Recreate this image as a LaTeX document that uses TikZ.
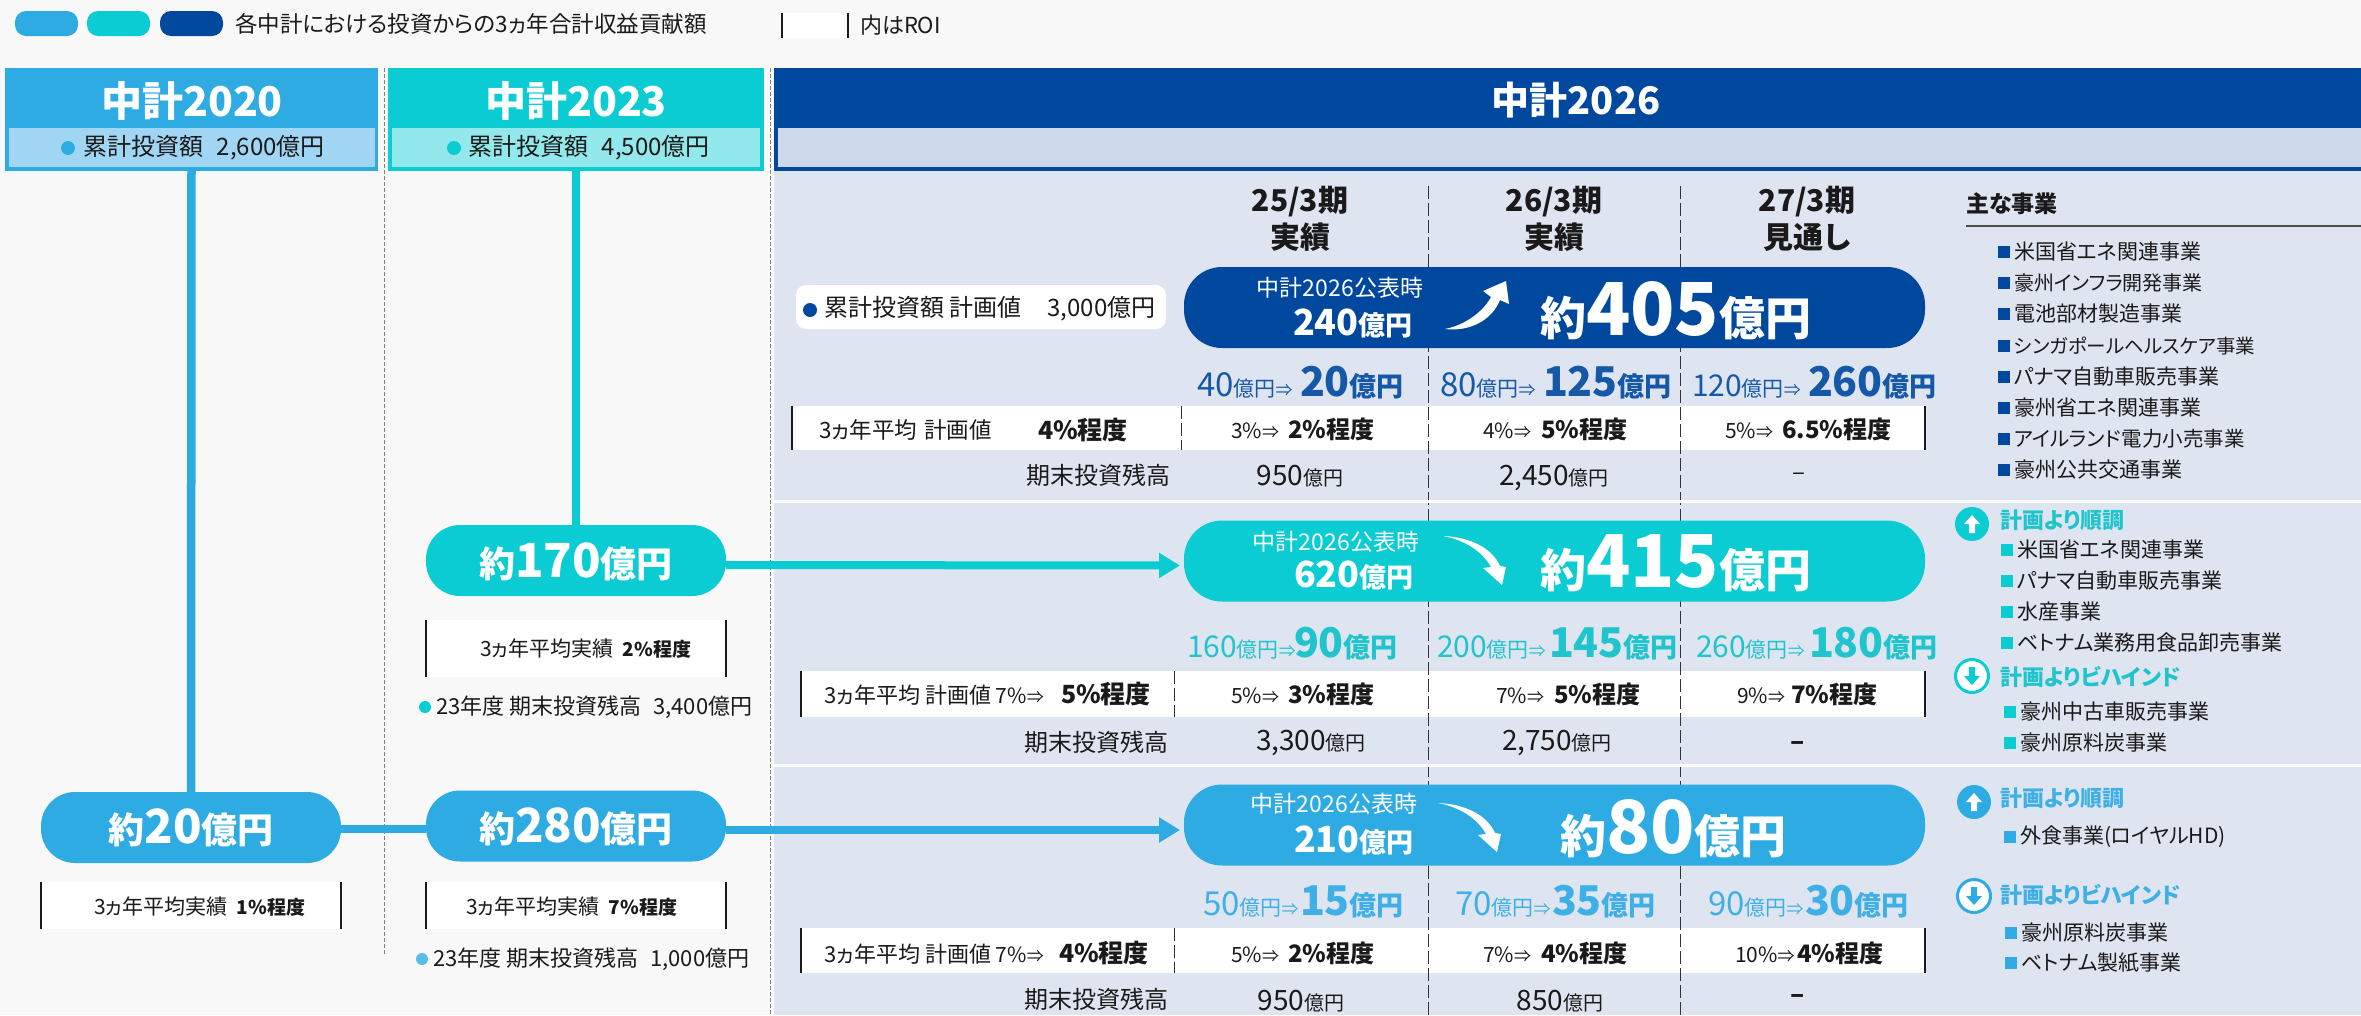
\documentclass[tikz,border=0pt]{standalone}
\usepackage{fontspec}
\setmainfont{Noto Sans CJK JP}[RawFeature={+palt}]
\usetikzlibrary{arrows.meta}
\definecolor{bluea}{HTML}{2EABE3}
\definecolor{bluel}{HTML}{A0D6F3}
\definecolor{cyana}{HTML}{0ACCD2}
\definecolor{cyanl}{HTML}{92E8EA}
\definecolor{navy}{HTML}{00489D}
\definecolor{navyl}{HTML}{CDD9EB}
\definecolor{panel}{HTML}{DFE5F0}
\definecolor{paper}{HTML}{F8F8F8}
\definecolor{ink}{HTML}{1A1A1A}
\definecolor{navyt}{HTML}{1558A8}
\definecolor{cyant}{HTML}{20C4CC}
\definecolor{bluet}{HTML}{3FB0E6}
\newcommand{\fs}[1]{\fontsize{#1}{#1}\selectfont}
\newcommand{\amt}[8][]{%
  \node[txt,anchor=base west,text=#4] (#2s) at (#5,#3) {\fs{33}#6\fs{21}億円\fs{17}⇒};
  \node[txt,anchor=base west,text=#4] (#2b) at (#7,#3) {\bfseries\fs{41}#8\fs{27}億円};}
\newcommand{\roi}[6]{%
  \node[txt,anchor=base west,text=ink] (#1s) at (#3,#2) {\fs{21}#4\fs{17}⇒};
  \node[txt,anchor=base west,text=ink] (#1b) at (#5,#2) {\bfseries\fs{24}#6};}
\newcommand{\upicon}[4]{%
  \node[ellipse icon,fill=#4] (#1) at (#2,#3) {};
  \fill[white] ([xshift=0pt,yshift=9pt]#1.center) -- ++(-8pt,-9pt) -- ++(5pt,0pt) -- ++(0pt,-9pt) -- ++(6pt,0pt) -- ++(0pt,9pt) -- ++(5pt,0pt) -- cycle;}
\newcommand{\downicon}[4]{%
  \node[ellipse icon,fill=white,draw=#4,line width=3pt,minimum width=31pt,minimum height=33pt] (#1) at (#2,#3) {};
  \fill[#4] ([yshift=-9pt]#1.center) -- ++(-8pt,9pt) -- ++(5pt,0pt) -- ++(0pt,9pt) -- ++(6pt,0pt) -- ++(0pt,-9pt) -- ++(5pt,0pt) -- cycle;}
\newcommand{\bizitem}[6]{%
  \node[bizsq,fill=#4] (#1q) at (#2,#3) {};
  \node[txt,anchor=west,text=ink] (#1) at (#5,#3) {\fs{21}#6};}
\tikzset{
  txt/.style={inner sep=0pt,outer sep=0pt},
  ellipse icon/.style={circle,inner sep=0pt,outer sep=0pt,minimum width=34pt},
  bizsq/.style={rectangle,inner sep=0pt,outer sep=0pt,minimum width=12pt,minimum height=12pt},
  pillsmall/.style={rectangle,inner sep=0pt,outer sep=0pt,rounded corners=34pt,minimum width=300pt,minimum height=71pt},
  pillbig/.style={rectangle,inner sep=0pt,outer sep=0pt,rounded corners=38pt,minimum width=741pt,minimum height=81pt},
  whitebox/.style={rectangle,fill=white,inner sep=0pt,outer sep=0pt},
  sepline/.style={draw=black!50,line width=1pt,dash pattern=on 4pt off 2pt},
  colline/.style={draw=black!80,line width=1pt,dash pattern=on 13pt off 4pt},
  sideline/.style={draw=ink,line width=2pt},
  flowline/.style={line width=8.5pt},
  flowarrow/.style={line width=8pt,-{Triangle[length=21pt,width=24pt]}},
  hd/.style={rectangle,inner sep=0pt,outer sep=0pt},
  dotm/.style={circle,inner sep=0pt,outer sep=0pt,minimum size=14pt},
}
\begin{document}
\begin{tikzpicture}[x=1pt,y=-1pt]
\useasboundingbox (0,0) rectangle (2361,1015);
\fill[paper] (0,0) rectangle (2361,1015);
% panel and section dividers
\fill[panel] (774,171) rectangle (2361,1015);
% legend
\node[hd,fill=bluea,rounded corners=11pt,minimum width=63pt,minimum height=25pt] (lg1) at (46.5,23.5) {};
\node[hd,fill=cyana,rounded corners=11pt,minimum width=63pt,minimum height=25pt] (lg2) at (118.5,23.5) {};
\node[hd,fill=navy,rounded corners=11pt,minimum width=63pt,minimum height=25pt] (lg3) at (191.5,23.5) {};
\node[txt,anchor=west,text=ink] (lgt) at (235,24) {\fs{22.5}各中計における投資からの3ヵ年合計収益貢献額};
\node[whitebox,minimum width=66pt,minimum height=25pt] (lgb) at (815,25.5) {};
\draw[sideline] (lgb.north west) -- (lgb.south west);
\draw[sideline] (lgb.north east) -- (lgb.south east);
\node[txt,anchor=west,text=ink] (lgr) at (860,25) {\fs{22}内はROI};
% headers
\node[hd,fill=bluea,minimum width=373pt,minimum height=103pt] (h20) at (191.5,119.5) {};
\node[hd,fill=bluel,minimum width=366pt,minimum height=39pt] (h20i) at (192,147.5) {};
\node[hd,fill=cyana,minimum width=376pt,minimum height=103pt] (h23) at (576,119.5) {};
\node[hd,fill=cyanl,minimum width=368pt,minimum height=39pt] (h23i) at (576,147.5) {};
\node[hd,fill=navy,minimum width=1587pt,minimum height=103pt] (h26) at (1567.5,119.5) {};
\node[hd,fill=navyl,minimum width=1583pt,minimum height=39pt] (h26i) at (1569.5,147.5) {};
\node[txt,text=white] (t20) at (192,101) {\bfseries\fs{41}中計2020};
\node[txt,text=white] (t23) at (576,101) {\bfseries\fs{41}中計2023};
\node[txt,text=white] (t26) at (1576,100) {\bfseries\fs{38}中計2026};
\node[dotm,fill=bluea] (d20) at (68,148) {};
\node[txt,anchor=west,text=ink] (i20) at (83,148) {\fs{24}累計投資額\hspace{14pt}2,600億円};
\node[dotm,fill=cyana] (d23) at (454,148) {};
\node[txt,anchor=west,text=ink] (i23) at (468,148) {\fs{24}累計投資額\hspace{14pt}4,500億円};
% separators
\coordinate (s1a) at (384,68); \coordinate (s1b) at (384,955);
\coordinate (s2a) at (770,68); \coordinate (s2b) at (770,1015);
\draw[sepline] (s1a) -- (s1b);
\draw[sepline] (s2a) -- (s2b);
% white rows
\node[whitebox,minimum width=1133pt,minimum height=44pt] (r1) at (1358.5,428) {};
\node[whitebox,minimum width=1124pt,minimum height=46pt] (r2) at (1363,694) {};
\node[whitebox,minimum width=1124pt,minimum height=45pt] (r3) at (1363,950.5) {};
\foreach \r in {r1,r2,r3}{
  \draw[sideline] (\r.north west) -- (\r.south west);
  \draw[sideline] (\r.north east) -- (\r.south east);
}
% column dashed lines
\coordinate (c1a) at (1428,186); \coordinate (c1b) at (1428,1015);
\coordinate (c2a) at (1680,186); \coordinate (c2b) at (1680,1015);
\draw[colline] (c1a) -- (c1b);
\draw[colline] (c2a) -- (c2b);
\coordinate (l1a) at (1181,406); \coordinate (l1b) at (1181,450);
\coordinate (l2a) at (1174,671); \coordinate (l2b) at (1174,717);
\coordinate (l3a) at (1174,928); \coordinate (l3b) at (1174,973);
\draw[colline] (l1a) -- (l1b);
\draw[colline] (l2a) -- (l2b);
\draw[colline] (l3a) -- (l3b);
% section dividers
\coordinate (dv1a) at (774,501); \coordinate (dv1b) at (2361,501);
\coordinate (dv2a) at (774,765); \coordinate (dv2b) at (2361,765);
\draw[white,line width=3pt] (dv1a) -- (dv1b);
\draw[white,line width=3pt] (dv2a) -- (dv2b);
% left boxes
\node[whitebox,minimum width=300pt,minimum height=57pt] (b2) at (576,648.5) {};
\node[whitebox,minimum width=300pt,minimum height=47pt] (b1) at (191,905.5) {};
\node[whitebox,minimum width=300pt,minimum height=47pt] (b7) at (576,905.5) {};
\foreach \r in {b1,b2,b7}{
  \draw[sideline] (\r.north west) -- (\r.south west);
  \draw[sideline] (\r.north east) -- (\r.south east);
}
% pills
\node[pillsmall,fill=cyana] (p170) at (576,560.5) {};
\node[pillsmall,fill=bluea] (p20) at (191,827.5) {};
\node[pillsmall,fill=bluea] (p280) at (576,826) {};
\node[pillbig,fill=navy] (q1) at (1554.5,307.5) {};
\node[pillbig,fill=cyana] (q2) at (1554.5,561) {};
\node[pillbig,fill=bluea] (q3) at (1554.5,825) {};
% connectors
\draw[flowline,draw=bluea] (h20.south) -- (p20.north);
\draw[flowline,draw=cyana] (h23.south) -- (p170.north);
\draw[flowline,draw=bluea] ([yshift=-1.5pt]p20.east) -- ([yshift=-3pt]p280.west);
\draw[flowarrow,draw=cyana] ([yshift=-4.5pt]p170.east) -- ([xshift=-4pt,yshift=-4.5pt]q2.west);
\draw[flowarrow,draw=bluea] ([yshift=-4pt]p280.east) -- ([xshift=-4pt,yshift=-5pt]q3.west);
% pill texts
\node[txt,anchor=base,text=white] (p170t) at (576,577) {\bfseries\fs{36}約\fs{47}170\fs{36}億円};
\node[txt,anchor=base,text=white] (p20t) at (191,843) {\bfseries\fs{36}約\fs{47}20\fs{36}億円};
\node[txt,anchor=base,text=white] (p280t) at (576,842) {\bfseries\fs{36}約\fs{47}280\fs{36}億円};
\node[txt,text=white] (q1a) at (1340,288) {\fs{23}中計2026公表時};
\node[txt,anchor=base west,text=white] (q1b) at (1293,335) {\bfseries\fs{36}240\fs{27}億円};
\node[txt,anchor=base west,text=white] (q1c) at (1540,335) {\bfseries\fs{46}約\fs{73}405\fs{46}億円};
\node[txt,text=white] (q2a) at (1336,542) {\fs{23}中計2026公表時};
\node[txt,anchor=base west,text=white] (q2b) at (1294,587) {\bfseries\fs{36}620\fs{27}億円};
\node[txt,anchor=base west,text=white] (q2c) at (1540,587) {\bfseries\fs{46}約\fs{73}415\fs{46}億円};
\node[txt,text=white] (q3a) at (1334,804) {\fs{23}中計2026公表時};
\node[txt,anchor=base west,text=white] (q3b) at (1294,852) {\bfseries\fs{36}210\fs{27}億円};
\node[txt,anchor=base west,text=white] (q3c) at (1560,853) {\bfseries\fs{46}約\fs{73}80\fs{46}億円};
% swoosh arrows
\fill[white] (1445,329) .. controls (1465,325) and (1483,312) .. (1491,297) -- (1483,291) -- (1506,281) -- (1509,304) -- (1500,300) .. controls (1492,320) and (1470,332) .. (1445,329) -- cycle;
\fill[white] (1443,536) .. controls (1470,537) and (1492,548) .. (1500,566) -- (1506,567) -- (1502,585) -- (1483,568) -- (1491,567) .. controls (1483,552) and (1465,540) .. (1443,536) -- cycle;
\fill[white] (1438,803) .. controls (1465,804) and (1487,815) .. (1495,833) -- (1501,834) -- (1497,852) -- (1478,835) -- (1486,834) .. controls (1478,819) and (1460,807) .. (1438,803) -- cycle;
% column heads
\node[txt,align=center,text=ink] (y25) at (1300,219) {\bfseries\fs{30}25/3期\\[5pt]\bfseries\fs{30}実績};
\node[txt,align=center,text=ink] (y26) at (1554,219) {\bfseries\fs{30}26/3期\\[5pt]\bfseries\fs{30}実績};
\node[txt,align=center,text=ink] (y27) at (1807,219) {\bfseries\fs{30}27/3期\\[5pt]\bfseries\fs{30}見通し};
% cumulative plan
\node[whitebox,rounded corners=10pt,minimum width=370pt,minimum height=44pt] (cp) at (981,307) {};
\node[dotm,fill=navy] (cpd) at (810,310) {};
\node[txt,anchor=west,text=ink] (cpt) at (824,309) {\fs{24}累計投資額 計画値\hspace{26pt}3,000億円};
% row 1
\amt{a11}{396}{navyt}{1197}{40}{1300}{20}
\amt{a12}{396}{navyt}{1440}{80}{1543}{125}
\amt{a13}{396}{navyt}{1692}{{\fs{30}120}}{1808}{260}
\node[txt,anchor=west,text=ink] (r1l) at (819,430) {\fs{22.5}3ヵ年平均 \hspace{2pt}計画値};
\node[txt,anchor=west,text=ink] (r1v) at (1038,430) {\bfseries\fs{25}4\%程度};
\roi{e11}{438}{1231}{3\%}{1288}{2\%程度}
\roi{e12}{438}{1483}{4\%}{1541}{5\%程度}
\roi{e13}{438}{1725}{5\%}{1782}{6.5\%程度}
\node[txt,anchor=east,text=ink] (s1l) at (1170,475) {\fs{24}期末投資残高};
\node[txt,anchor=base,text=ink] (s11) at (1300,485) {\fs{28}950\fs{20}億円};
\node[txt,anchor=base,text=ink] (s12) at (1554,485) {\fs{28}2,450\fs{20}億円};
\node[txt,text=ink] (s13) at (1799,477) {\fs{24}–};
% row 2
\amt{a21}{657}{cyant}{1187}{{\fs{30}160}}{1294}{90}
\amt{a22}{657}{cyant}{1437}{{\fs{30}200}}{1549}{145}
\amt{a23}{657}{cyant}{1696}{{\fs{30}260}}{1809}{180}
\node[txt,anchor=base west,text=ink] (r2l) at (824,703) {\fs{22}3ヵ年平均 計画値 \fs{21}7\%\fs{17}⇒};
\node[txt,anchor=base west,text=ink] (r2v) at (1061,703) {\bfseries\fs{25}5\%程度};
\roi{e21}{703}{1231}{5\%}{1288}{3\%程度}
\roi{e22}{703}{1496}{7\%}{1554}{5\%程度}
\roi{e23}{703}{1737}{9\%}{1791}{7\%程度}
\node[txt,anchor=east,text=ink] (s2l) at (1168,742) {\fs{24}期末投資残高};
\node[txt,anchor=base,text=ink] (s21) at (1311,750) {\fs{28}3,300\fs{20}億円};
\node[txt,anchor=base,text=ink] (s22) at (1557,750) {\fs{28}2,750\fs{20}億円};
\node[txt,text=ink] (s23) at (1798,746) {\bfseries\fs{26}–};
% row 3
\amt{a31}{915}{bluet}{1203}{50}{1300}{15}
\amt{a32}{915}{bluet}{1455}{70}{1552}{35}
\amt{a33}{915}{bluet}{1708}{90}{1805}{30}
\node[txt,anchor=base west,text=ink] (r3l) at (824,962) {\fs{22}3ヵ年平均 計画値 \fs{21}7\%\fs{17}⇒};
\node[txt,anchor=base west,text=ink] (r3v) at (1059,962) {\bfseries\fs{25}4\%程度};
\roi{e31}{962}{1231}{5\%}{1288}{2\%程度}
\roi{e32}{962}{1483}{7\%}{1541}{4\%程度}
\roi{e33}{962}{1735}{10\%}{1797}{4\%程度}
\node[txt,anchor=east,text=ink] (s3l) at (1168,999) {\fs{24}期末投資残高};
\node[txt,anchor=base,text=ink] (s31) at (1301,1010) {\fs{28}950\fs{20}億円};
\node[txt,anchor=base,text=ink] (s32) at (1560,1010) {\fs{28}850\fs{20}億円};
\node[txt,text=ink] (s33) at (1798,999) {\bfseries\fs{26}–};
% left box texts
\node[txt,anchor=base west,text=ink] (b2t) at (480,656) {\fs{21}3ヵ年平均実績};
\node[txt,anchor=base east,text=ink] (b2v) at (691,656) {\bfseries\fs{19}2\%程度};
\node[txt,anchor=base west,text=ink] (b1t) at (94,914) {\fs{21}3ヵ年平均実績};
\node[txt,anchor=base east,text=ink] (b1v) at (305,914) {\bfseries\fs{19}1\%程度};
\node[txt,anchor=base west,text=ink] (b7t) at (466,914) {\fs{21}3ヵ年平均実績};
\node[txt,anchor=base east,text=ink] (b7v) at (677,914) {\bfseries\fs{19}7\%程度};
\node[dotm,fill=cyana,minimum size=12pt] (d34) at (425,707) {};
\node[txt,anchor=west,text=ink] (t34) at (436,707) {\fs{22}23年度 期末投資残高\hspace{12pt}3,400億円};
\node[dotm,fill=bluea!80,minimum size=12pt] (d10) at (422,959) {};
\node[txt,anchor=west,text=ink] (t10) at (433,959) {\fs{22}23年度 期末投資残高\hspace{12pt}1,000億円};
% main businesses
\node[txt,anchor=west,text=ink] (mb) at (1966,204) {\bfseries\fs{23}主な事業};
\coordinate (mba) at (1966,226); \coordinate (mbb) at (2361,226);
\draw[draw=black!70,line width=2pt] (mba) -- (mbb);
\bizitem{n1}{2004}{252}{navy}{2014}{米国省エネ関連事業}
\bizitem{n2}{2004}{283}{navy}{2014}{\fs{20}豪州インフラ開発事業}
\bizitem{n3}{2004}{314}{navy}{2014}{電池部材製造事業}
\bizitem{n4}{2004}{346}{navy}{2014}{\fs{19.5}シンガポールヘルスケア事業}
\bizitem{n5}{2004}{377}{navy}{2014}{パナマ自動車販売事業}
\bizitem{n6}{2004}{408}{navy}{2014}{豪州省エネ関連事業}
\bizitem{n7}{2004}{439}{navy}{2014}{\fs{20.5}アイルランド電力小売事業}
\bizitem{n8}{2004}{470}{navy}{2014}{豪州公共交通事業}
\upicon{u2}{1972}{524}{cyana}
\node[txt,anchor=west,text=cyant] (u2t) at (2000,520) {\bfseries\fs{22}計画より順調};
\bizitem{c1}{2007}{550}{cyana}{2017}{米国省エネ関連事業}
\bizitem{c2}{2007}{581}{cyana}{2017}{パナマ自動車販売事業}
\bizitem{c3}{2007}{612}{cyana}{2017}{水産事業}
\bizitem{c4}{2007}{643}{cyana}{2017}{ベトナム業務用食品卸売事業}
\downicon{v2}{1972}{676}{cyana}
\node[txt,anchor=west,text=cyant] (v2t) at (2000,677) {\bfseries\fs{22}計画よりビハインド};
\bizitem{c5}{2010}{712}{cyana}{2020}{豪州中古車販売事業}
\bizitem{c6}{2010}{743}{cyana}{2020}{豪州原料炭事業}
\upicon{u3}{1974}{802}{bluea}
\node[txt,anchor=west,text=bluet] (u3t) at (2000,798) {\bfseries\fs{22}計画より順調};
\bizitem{g1}{2010}{837}{bluea}{2020}{外食事業(ロイヤルHD)}
\downicon{v3}{1974}{896}{bluea}
\node[txt,anchor=west,text=bluet] (v3t) at (2000,895) {\bfseries\fs{22}計画よりビハインド};
\bizitem{g2}{2011}{933}{bluea}{2021}{豪州原料炭事業}
\bizitem{g3}{2011}{963}{bluea}{2021}{ベトナム製紙事業}
\end{tikzpicture}
\end{document}
